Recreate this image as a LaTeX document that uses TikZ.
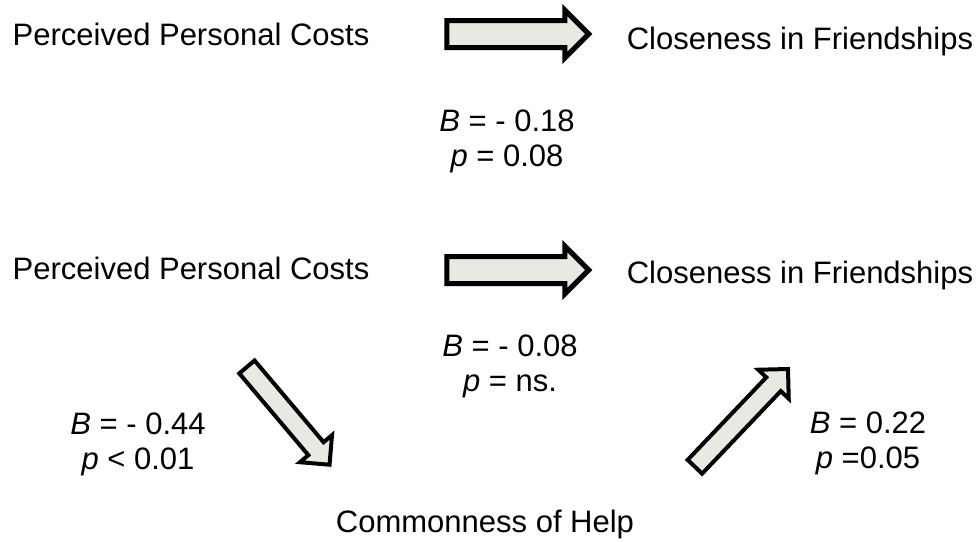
\documentclass[tikz,border=0pt]{standalone}
\usepackage{fontspec}
\setmainfont{Liberation Sans}
\usetikzlibrary{shapes.arrows}
\definecolor{arrowfill}{HTML}{E9E9E1}

\begin{document}
\begin{tikzpicture}[x=1pt, y=-1pt,
  lab/.style={font=\fontsize{31}{35}\selectfont, inner sep=0pt, anchor=base, align=center},
  blockarrow/.style={single arrow, draw=black, fill=arrowfill, single arrow head indent=0pt, line join=miter}]
  \useasboundingbox (0,0) rectangle (979,541);
  % upper model
  \node[lab] (costA) at (191,45) {Perceived Personal Costs};
  \node[lab] (closeA) at (800,49) {Closeness in Friendships};
  \node[blockarrow, line width=5pt, inner sep=11pt, single arrow head extend=10.5pt, minimum height=142pt] (arrA) at (511,34) {};
  \node[lab] (betaA) at (507,166) {\textit{B} = - 0.18\\\textit{p} = 0.08};
  % lower model, with mediator
  \node[lab] (costB) at (191,279) {Perceived Personal Costs};
  \node[lab] (closeB) at (800,283) {Closeness in Friendships};
  \node[blockarrow, line width=5pt, inner sep=11pt, single arrow head extend=10.5pt, minimum height=142pt] (arrB) at (511,270) {};
  \node[lab] (betaB) at (510,391) {\textit{B} = - 0.08\\\textit{p} = ns.};
  \node[lab] (help) at (485,532) {Commonness of Help};
  \node[blockarrow, line width=4pt, inner sep=8pt, single arrow head extend=11pt, minimum height=128pt, rotate=-49.8] (arrC) at (285,412) {};
  \node[blockarrow, line width=4pt, inner sep=8pt, single arrow head extend=11pt, minimum height=135pt, rotate=46.4] (arrD) at (738,421.5) {};
  \node[lab] (betaC) at (138,469) {\textit{B} = - 0.44\\\textit{p} < 0.01};
  \node[lab] (betaD) at (868,468) {\textit{B} = 0.22\\\textit{p} =0.05};
\end{tikzpicture}
\end{document}
